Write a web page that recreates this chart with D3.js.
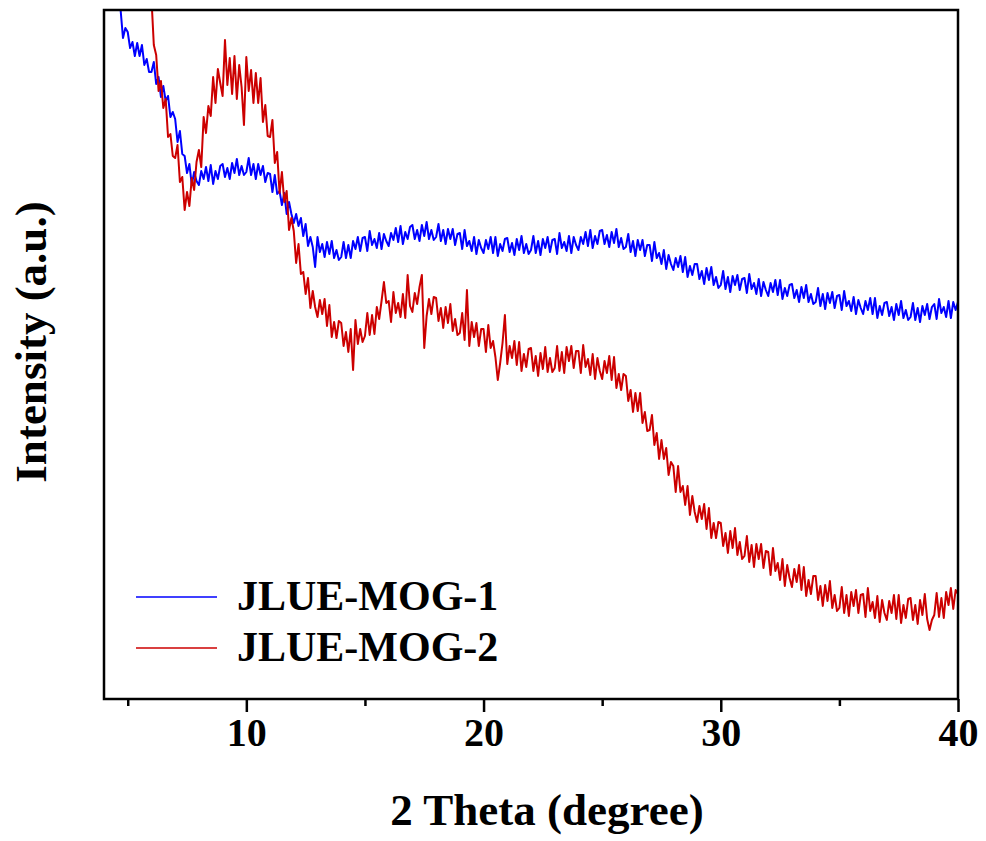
<!DOCTYPE html>
<html>
<head>
<meta charset="utf-8">
<script src="https://cdn.jsdelivr.net/npm/d3@7"></script>
<style>
  html, body { margin: 0; padding: 0; background: #fff; }
  svg { display: block; }
  text { font-family: "Liberation Serif", "Times New Roman", serif; font-weight: bold; fill: #000; }
</style>
</head>
<body>
<svg id="chart" width="986" height="841"></svg>
<script>
// XRD patterns, 2θ sampled every 0.1 degree (arbitrary intensity units)
const mog1Start = 4.7;
const mog1Intensity = [
  690, 662, 672,
  668, 652, 658, 644, 657, 644, 655, 635, 641, 628,
  628, 638, 616, 623, 603, 614, 599, 604, 583, 588,
  581, 558, 569, 546, 544, 527, 536, 515, 528, 519,
  515, 529, 521, 533, 519, 535, 516, 529, 521, 534,
  536, 523, 532, 521, 537, 527, 541, 525, 534, 525,
  528, 542, 525, 536, 521, 536, 525, 534, 518, 527,
  526, 508, 525, 506, 509, 495, 507, 486, 498, 486,
  477, 486, 474, 482, 464, 476, 454, 463, 453, 433,
  463, 448, 456, 443, 458, 446, 459, 442, 450, 440,
  443, 458, 442, 455, 442, 459, 451, 463, 449, 462,
  463, 449, 469, 455, 461, 452, 467, 451, 466, 459,
  454, 467, 460, 472, 458, 474, 456, 468, 461, 473,
  475, 461, 470, 459, 475, 464, 478, 461, 470, 460,
  463, 476, 459, 470, 456, 471, 461, 471, 455, 466,
  467, 451, 470, 454, 459, 449, 463, 446, 460, 452,
  447, 460, 451, 463, 447, 463, 444, 456, 449, 461,
  462, 448, 457, 445, 461, 450, 464, 447, 456, 446,
  450, 464, 447, 459, 445, 461, 452, 463, 448, 460,
  461, 446, 467, 452, 458, 449, 464, 447, 463, 455,
  450, 463, 456, 468, 454, 470, 452, 464, 456, 469,
  470, 456, 465, 453, 468, 457, 471, 453, 462, 451,
  453, 466, 448, 459, 444, 460, 450, 460, 444, 455,
  455, 439, 458, 442, 447, 436, 450, 431, 445, 436,
  430, 442, 433, 444, 428, 443, 423, 434, 425, 436,
  436, 421, 429, 416, 432, 420, 433, 415, 423, 412,
  415, 429, 411, 423, 408, 424, 415, 425, 410, 421,
  422, 407, 426, 411, 417, 406, 421, 404, 418, 410,
  404, 417, 408, 420, 405, 420, 401, 412, 404, 415,
  416, 402, 410, 398, 413, 402, 415, 398, 406, 396,
  398, 412, 394, 406, 391, 407, 397, 408, 392, 404,
  405, 390, 409, 394, 399, 389, 403, 386, 400, 392,
  386, 399, 390, 402, 386, 402, 382, 394, 385, 397,
  398, 384, 393, 380, 396, 385, 399, 382, 390, 380,
  383, 397, 380, 392, 378, 394, 385, 396, 381, 393,
  396, 381, 401, 387, 393, 383, 399, 382, 398, 390,
  398
];

const mog2Start = 5.8;
const mog2Intensity = [
  730, 708,
  702, 655, 645, 609, 619, 592, 601, 563, 566, 544,
  542, 555, 518, 523, 490, 508, 494, 522, 510, 538,
  550, 533, 583, 567, 594, 584, 623, 597, 631, 617,
  604, 660, 615, 642, 606, 644, 601, 635, 613, 575,
  643, 609, 630, 597, 627, 597, 622, 578, 595, 564,
  563, 580, 537, 548, 507, 528, 498, 509, 470, 482,
  469, 437, 456, 426, 428, 406, 422, 392, 409, 393,
  383, 400, 386, 401, 374, 395, 363, 378, 362, 379,
  377, 354, 368, 348, 371, 330, 380, 356, 371, 358,
  364, 387, 365, 385, 366, 393, 381, 399, 418, 397,
  399, 378, 408, 387, 397, 383, 406, 382, 425, 394,
  388, 407, 396, 413, 425, 352, 384, 401, 386, 403,
  402, 379, 392, 372, 393, 377, 396, 369, 381, 365,
  367, 387, 360, 410, 354, 378, 363, 377, 354, 371,
  371, 348, 375, 352, 359, 343, 320, 337, 357, 385,
  336, 354, 342, 359, 335, 358, 329, 346, 333, 351,
  352, 329, 344, 324, 347, 331, 353, 328, 342, 328,
  332, 354, 329, 348, 327, 353, 339, 354, 332, 349,
  349, 327, 355, 333, 341, 325, 346, 321, 342, 329,
  321, 339, 327, 344, 320, 343, 312, 326, 310, 326,
  324, 299, 310, 288, 307, 289, 307, 277, 288, 269,
  270, 285, 255, 267, 241, 260, 241, 252, 225, 238,
  234, 208, 234, 208, 214, 195, 214, 185, 204, 188,
  178, 194, 181, 196, 171, 192, 162, 177, 162, 178,
  177, 154, 167, 147, 169, 152, 172, 145, 158, 141,
  144, 164, 138, 155, 133, 156, 141, 156, 132, 149,
  148, 125, 152, 129, 137, 120, 141, 114, 135, 122,
  113, 131, 118, 135, 110, 133, 104, 120, 106, 124,
  124, 100, 114, 94, 115, 99, 119, 92, 105, 89,
  92, 113, 87, 105, 84, 108, 94, 110, 87, 105,
  106, 83, 112, 89, 98, 82, 104, 78, 100, 87,
  80, 99, 87, 105, 81, 105, 77, 95, 82, 101,
  102, 80, 95, 76, 100, 85, 106, 81, 70, 80,
  85, 107, 83, 102, 82, 108, 95, 112, 91, 110,
  106
];

const seriesNames = ["JLUE-MOG-1", "JLUE-MOG-2"];
const seriesColors = ["#0000ff", "#cc0000"];
const majorTicks = [10, 20, 30, 40];
const minorTicks = [5, 15, 25, 35];
const xTitle = "2 Theta (degree)";
const yTitle = "Intensity (a.u.)";

const step = 0.1;
const toPoints = (start, vals) => vals.map((v, i) => [+(start + i * step).toFixed(2), v]);
const series = [
  { name: seriesNames[0], color: seriesColors[0], pts: toPoints(mog1Start, mog1Intensity) },
  { name: seriesNames[1], color: seriesColors[1], pts: toPoints(mog2Start, mog2Intensity) }
];

const plot = { left: 104, right: 958, top: 10, bottom: 699 };
const svg = d3.select("#chart");

const x = d3.scaleLinear().domain([4, 40]).range([plot.left, plot.right]);
const y = d3.scaleLinear().domain([0, 700]).range([700, 0]);

svg.append("defs").append("clipPath").attr("id", "plotClip")
  .append("rect")
  .attr("x", plot.left).attr("y", plot.top)
  .attr("width", plot.right - plot.left).attr("height", plot.bottom - plot.top);

const line = d3.line().x(d => x(d[0])).y(d => y(d[1]));

const lines = svg.append("g").attr("clip-path", "url(#plotClip)");
series.forEach(s => {
  lines.append("path")
    .datum(s.pts)
    .attr("fill", "none")
    .attr("stroke", s.color)
    .attr("stroke-width", 2)
    .attr("stroke-linejoin", "round")
    .attr("d", line);
});

// frame
svg.append("rect")
  .attr("x", plot.left).attr("y", plot.top)
  .attr("width", plot.right - plot.left).attr("height", plot.bottom - plot.top)
  .attr("fill", "none").attr("stroke", "#000").attr("stroke-width", 2.5);

// bottom axis: major ticks with labels, minor ticks without
const axisMajor = d3.axisBottom(x).tickValues(majorTicks).tickSize(13).tickPadding(6).tickFormat(d3.format("d"));
const gMajor = svg.append("g").attr("transform", `translate(0,${plot.bottom})`).call(axisMajor);
gMajor.select(".domain").remove();
gMajor.selectAll(".tick line").attr("stroke", "#000").attr("stroke-width", 2.5);
gMajor.selectAll(".tick text")
  .style("font-family", '"Liberation Serif", "Times New Roman", serif')
  .style("font-weight", "bold").style("font-size", "40px").attr("fill", "#000");

const axisMinor = d3.axisBottom(x).tickValues(minorTicks).tickSize(7).tickFormat("");
const gMinor = svg.append("g").attr("transform", `translate(0,${plot.bottom})`).call(axisMinor);
gMinor.select(".domain").remove();
gMinor.selectAll(".tick line").attr("stroke", "#000").attr("stroke-width", 2.5);

// axis titles
svg.append("text")
  .attr("x", 547).attr("y", 825)
  .attr("text-anchor", "middle")
  .style("font-size", "45px")
  .text(xTitle);

svg.append("text")
  .attr("transform", "translate(46,342) rotate(-90)")
  .attr("text-anchor", "middle")
  .style("font-size", "45px")
  .text(yTitle);

// legend
const legend = svg.append("g");
series.forEach((s, i) => {
  const ly = 597 + i * 51;
  legend.append("line")
    .attr("x1", 136).attr("x2", 217)
    .attr("y1", ly).attr("y2", ly)
    .attr("stroke", s.color).attr("stroke-width", 1.5);
  legend.append("text")
    .attr("x", 237).attr("y", ly + 13)
    .style("font-size", "42px")
    .text(s.name);
});
</script>
</body>
</html>
